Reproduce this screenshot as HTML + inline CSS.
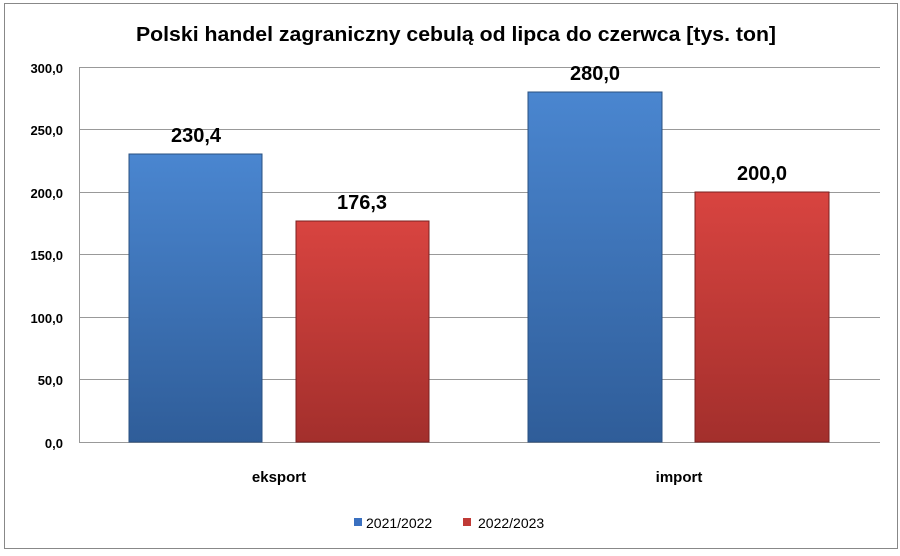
<!DOCTYPE html>
<html><head><style>
body{margin:0;background:#fff;}
svg text{font-family:"Liberation Sans",sans-serif;}
</style></head><body>
<svg width="900" height="551" xmlns="http://www.w3.org/2000/svg">
<defs>
<linearGradient id="b" x1="0" y1="0" x2="0" y2="1"><stop offset="0" stop-color="#4a86d0"/><stop offset="1" stop-color="#2f5d99"/></linearGradient>
<linearGradient id="r" x1="0" y1="0" x2="0" y2="1"><stop offset="0" stop-color="#d84440"/><stop offset="1" stop-color="#a32f2c"/></linearGradient>
</defs>
<rect x="4.5" y="3.5" width="893" height="545" fill="#fff" stroke="#888"/>
<text x="456" y="41" text-anchor="middle" font-size="20.5" font-weight="bold" fill="#000" textLength="640" lengthAdjust="spacingAndGlyphs">Polski handel zagraniczny cebulą od lipca do czerwca [tys. ton]</text>
<g stroke="#999" stroke-width="1">
<line x1="79" y1="67.5" x2="880" y2="67.5"/>
<line x1="79" y1="129.5" x2="880" y2="129.5"/>
<line x1="79" y1="192.5" x2="880" y2="192.5"/>
<line x1="79" y1="254.5" x2="880" y2="254.5"/>
<line x1="79" y1="317.5" x2="880" y2="317.5"/>
<line x1="79" y1="379.5" x2="880" y2="379.5"/>
<line x1="79" y1="442.5" x2="880" y2="442.5"/>
<line x1="79.5" y1="67" x2="79.5" y2="442"/>
</g>
<g font-size="13" font-weight="bold" text-anchor="end" fill="#000">
<text x="63" y="73">300,0</text><text x="63" y="135">250,0</text><text x="63" y="198">200,0</text>
<text x="63" y="260">150,0</text><text x="63" y="323">100,0</text><text x="63" y="385">50,0</text><text x="63" y="448">0,0</text>
</g>
<rect x="129" y="154" width="133" height="288" fill="url(#b)" stroke="#2a5080"/>
<rect x="296" y="221" width="133" height="221" fill="url(#r)" stroke="#7a2020"/>
<rect x="528" y="92" width="134" height="350" fill="url(#b)" stroke="#2a5080"/>
<rect x="695" y="192" width="134" height="250" fill="url(#r)" stroke="#7a2020"/>
<g font-size="20" font-weight="bold" text-anchor="middle" fill="#000">
<text x="196" y="142">230,4</text><text x="362" y="209">176,3</text>
<text x="595" y="80">280,0</text><text x="762" y="180">200,0</text>
</g>
<g font-size="15" font-weight="bold" text-anchor="middle" fill="#000">
<text x="279" y="482">eksport</text><text x="679" y="482">import</text>
</g>
<rect x="354" y="518" width="8" height="8" fill="#3a70c0"/>
<text x="366" y="528" font-size="14" fill="#000">2021/2022</text>
<rect x="463" y="518" width="8" height="8" fill="#c03a36"/>
<text x="478" y="528" font-size="14" fill="#000">2022/2023</text>
</svg>
</body></html>
